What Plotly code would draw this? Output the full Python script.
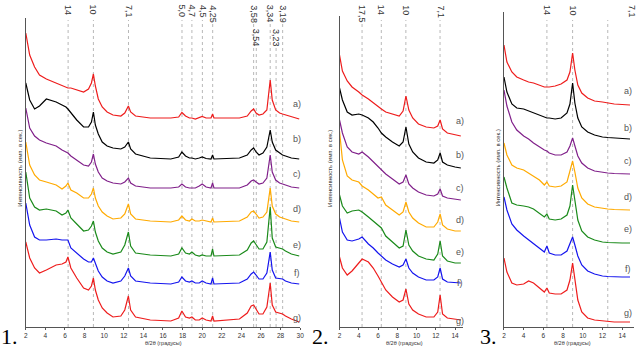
import plotly.graph_objects as go

# ---- panel 1: 2theta grid and intensities (a..g), relative to each curve's baseline
p1_x = [2.0, 2.4, 2.9, 3.4, 4.1, 5.1, 5.7, 6.1, 6.3, 6.6, 7.2, 7.9, 8.4, 8.7, 8.9, 9.1, 9.4, 9.8,
        10.3, 10.9, 11.7, 12.1, 12.47, 12.7, 13.2, 14.7, 16.8, 17.6, 17.93, 18.3, 18.7, 18.95,
        19.3, 19.7, 20.0, 20.4, 20.9, 21.06, 21.2, 23.8, 24.6, 25.0, 25.25, 25.5, 25.8, 26.2,
        26.6, 26.94, 27.15, 27.5, 27.9, 28.2, 28.5, 29.1, 29.9]
p1_a = [85, 63, 51, 43, 39, 35, 32, 31, 30, 30, 28, 26, 29, 35, 44, 32, 19, 11, 6, 3, 2, 5, 12, 6,
        2, 0, 0, 1, 5.5, 2, 0, 0, -1, 0, 1.5, 0, 0, 4, 0, 0, 2, 7, 9, 5, 3, 4, 8, 38, 18, 8, 5, 4,
        3, 1, -1]
p1_b = [76, 59, 50, 53, 60, 57, 54, 52, 50, 46, 39, 32, 32, 37, 47, 34, 25, 17, 13, 11, 10, 12,
        17, 10, 5, 1, 0, 2, 7, 3, 1, 1, 0, 1, 2, 0.5, 0, 4, 0, 1, 4, 9, 11, 7, 4, 6, 12, 29, 17,
        9, 6, 4, 3, 1, 0]
p1_c = [80, 60, 52, 48, 45, 42, 38, 36, 35, 32, 28, 23, 22, 26, 34, 24, 16, 10, 7, 5, 4, 6, 10,
        5, 2, 0, 0, 1, 4, 1, 0, 0, 0, 2, 4, 1, 0, 5, 0, 0, 3, 7, 8, 6, 4, 5, 10, 33, 16, 8, 5, 4,
        3, 1, 0]
p1_d = [80, 57, 47, 42, 40, 37, 33, 36, 39, 32, 29, 24, 24, 28, 34, 24, 16, 10, 6, 3, 4, 8, 18,
        8, 3, 1, 0, 2, 6, 2, 1, 3, 1, 1, 2, 1, 0, 4, 0, 1, 5, 10, 11, 8, 4, 5, 10, 34, 16, 8, 5, 4,
        3, 1, 0]
p1_e = [84, 58, 49, 46, 47, 45, 41, 43, 46, 38, 32, 25, 26, 30, 35, 24, 15, 8, 4, 2, 4, 11, 24,
        10, 3, 1, 0, 2, 8, 3, 2, 4, 1, 0, 1, 0, 0, 7, 0, 1, 6, 13, 15, 11, 7, 7, 14, 49, 18, 9, 8,
        7, 5, 2, 0]
p1_f = [81, 59, 47, 44, 44, 45, 44, 44, 44, 36, 31, 25, 22, 22, 26, 20, 13, 7, 3, 1, 3, 8, 16,
        8, 3, 1, 0, 2, 7, 3, 2, 3, 1, 1, 3, 1, 0, 6, 0, 1, 5, 10, 12, 9, 5, 5, 11, 32, 14, 6, 5, 5,
        3, 1, 0]
p1_g = [80, 64, 54, 49, 52, 57, 58, 60, 65, 54, 44, 34, 32, 36, 44, 32, 22, 14, 9, 5, 6, 12, 26,
        12, 5, 2, 1, 4, 11, 5, 4, 5, 2, 2, 4, 2, 1, 6, 1, 3, 9, 16, 17, 13, 8, 8, 15, 39, 17, 10,
        9, 8, 6, 3, 0]
p1_offsets = [209, 168, 139, 105, 71, 43, 5]

# ---- panel 2
p2_x = [2.0, 2.3, 2.8, 3.3, 4.0, 4.35, 5.0, 5.5, 6.0, 6.35, 6.8, 7.5, 8.2, 8.6, 8.9, 9.2, 9.6,
        10.2, 11.0, 11.8, 12.2, 12.45, 12.7, 13.2, 14.0, 14.6]
p2_a = [81, 65, 55, 49, 44, 41, 37, 33, 29, 27, 24, 22, 20, 25, 40, 26, 18, 12, 9, 8, 10, 16, 7, 3, 1, 0]
p2_b = [80, 68, 56, 53, 54, 53, 50, 46, 40, 35, 31, 26, 22, 26, 41, 24, 16, 10, 6, 5, 8, 15, 6, 3, 1, 0]
p2_c = [80, 67, 53, 48, 46, 48, 43, 38, 33, 30, 26, 21, 16, 18, 25, 16, 12, 8, 5, 4, 6, 11, 4, 2, 1, 0]
p2_d = [100, 71, 55, 51, 49, 45, 41, 37, 33, 34, 26, 21, 16, 19, 29, 19, 13, 8, 4, 4, 9, 17, 6, 2, 0, 0]
p2_e = [68, 57, 50, 52, 53, 51, 46, 42, 38, 35, 27, 21, 15, 17, 33, 18, 12, 7, 4, 3, 9, 22, 7, 2, 0, 0]
p2_f = [65, 51, 43, 42, 44, 46, 39, 35, 30, 27, 23, 19, 16, 18, 24, 15, 10, 6, 3, 3, 6, 15, 4, 1, 0, 0]
p2_g = [63, 52, 45, 49, 57, 61, 58, 52, 44, 38, 30, 23, 18, 20, 31, 16, 10, 6, 3, 3, 8, 25, 6, 2, 1, 0]
p2_offsets = [191, 159, 127, 96, 64, 44, 7]

# ---- panel 3
p3_x = [2.0, 2.3, 2.8, 3.3, 4.0, 4.5, 5.0, 5.6, 6.1, 6.36, 6.6, 7.2, 7.8, 8.4, 8.7, 8.97, 9.2,
        9.5, 9.9, 10.5, 11.2, 12.0, 12.54, 13.2, 14.0, 14.8]
p3_a = [60, 43, 33, 28, 25, 23, 22, 20, 18, 18, 18, 19, 21, 25, 33, 52, 35, 20, 12, 7, 4, 3, 2, 1, 0.5, 0]
p3_b = [62, 47, 35, 31, 30, 28, 26, 24, 22, 21, 21, 20, 21, 26, 35, 56, 36, 21, 12, 7, 4, 2, 1.5, 1, 0, 0]
p3_c = [84, 68, 52, 44, 38, 35, 31, 27, 24, 23, 21, 19, 19, 22, 28, 36, 28, 18, 11, 6, 3, 1.5, 1, 0.5, 0, 0]
p3_d = [67, 55, 45, 42, 40, 37, 34, 30, 25, 28, 24, 23, 24, 28, 39, 49, 38, 22, 12, 6, 3, 1.5, 1, 0.5, 0, 0]
p3_e = [66, 55, 40, 38, 37, 36, 34, 30, 26, 29, 24, 23, 24, 28, 37, 58, 43, 23, 12, 6, 3, 1, 0.5, 0, 0, 0]
p3_f = [80, 67, 53, 47, 41, 37, 33, 29, 25, 31, 24, 22, 22, 26, 33, 40, 32, 21, 12, 6, 3, 1, 0.5, 0, 0, 0]
p3_g = [64, 50, 39, 37, 38, 41, 39, 34, 30, 34, 29, 28, 28, 32, 42, 59, 42, 22, 10, 4, 2, 1, 0.5, 0, 0, 0]
p3_offsets = [222, 188, 153, 117, 84, 50, 5]

colors = ["#ee1c1c", "#000000", "#80208a", "#ffaa00", "#1a8a1a", "#1515ee", "#ee1c1c"]
sample_labels = ["a)", "b)", "c)", "d)", "e)", "f)", "g)"]

# d-spacing reference lines: 2theta position, label, label row, label position
p1_lines = [6.32, 8.9, 12.48, 17.94, 18.95, 20.02, 21.07, 25.25, 25.52, 26.94, 27.54, 28.21]
p1_line_labels = ["14", "10", "7,1", "5,0", "4,7", "4,5", "4,25", "3,58", "3,54", "3,34", "3,23", "3,19"]
p1_label_row = [0, 0, 0, 0, 0, 0, 0, 0, 1, 0, 1, 0]
p2_lines = [4.34, 6.34, 8.89, 12.44]
p2_line_labels = ["17,5", "14", "10", "7,1"]
p3_lines = [6.36, 8.97, 12.54]
p3_line_labels = ["14", "10", "7,1"]
p3_label_pos = [6.36, 8.97, 14.95]

W, H = 643, 348
fig = go.Figure()

panels = [
    dict(x=p1_x, ys=[p1_a, p1_b, p1_c, p1_d, p1_e, p1_f, p1_g], off=p1_offsets,
         xr=[2, 30], px=(24, 301), top=18, lines=p1_lines, labels=p1_line_labels,
         rows=p1_label_row, lpos=p1_lines, lab_x=298, lab_y=[104, 139, 174, 209, 245, 273, 318],
         title_x=163, ytitle_x=18),
    dict(x=p2_x, ys=[p2_a, p2_b, p2_c, p2_d, p2_e, p2_f, p2_g], off=p2_offsets,
         xr=[2, 14.8], px=(340.7, 465.1), top=16, lines=p2_lines, labels=p2_line_labels,
         rows=[0, 0, 0, 0], lpos=p2_lines, lab_x=462, lab_y=[121, 155, 188, 220, 252, 283, 321],
         title_x=406, ytitle_x=331),
    dict(x=p3_x, ys=[p3_a, p3_b, p3_c, p3_d, p3_e, p3_f, p3_g], off=p3_offsets,
         xr=[2, 15.2], px=(506.7, 637.9), top=12, lines=p3_lines, labels=p3_line_labels,
         rows=[0, 0, 0], lpos=p3_label_pos, lab_x=632, lab_y=[91, 128, 161, 197, 229, 269, 313],
         title_x=576, ytitle_x=501),
]

bottom_px = 327
for i, p in enumerate(panels):
    n = "" if i == 0 else str(i + 1)
    xa, ya = "x" + n, "y" + n
    for ys, off, col in zip(p["ys"], p["off"], colors):
        fig.add_trace(go.Scatter(x=p["x"], y=[v + off for v in ys], mode="lines",
                                 line=dict(color=col, width=1.2), xaxis=xa, yaxis=ya,
                                 hoverinfo="skip"))
    fig.layout["xaxis" + n] = dict(
        domain=[p["px"][0] / W, p["px"][1] / W], range=p["xr"], anchor=ya,
        showline=True, linecolor="#555", linewidth=1, ticks="outside", ticklen=2,
        tickcolor="#555", dtick=2, tick0=2, showgrid=False, zeroline=False,
        tickfont=dict(size=6.5, color="#333", family="Liberation Sans"))
    fig.layout["yaxis" + n] = dict(
        domain=[(H - bottom_px) / H, (H - p["top"]) / H], range=[0, bottom_px - p["top"]],
        anchor=xa, showline=True, linecolor="#555", linewidth=1, showticklabels=False,
        ticks="", showgrid=False, zeroline=False)
    # dotted reference lines and their rotated labels
    for pos, lab, row, lp in zip(p["lines"], p["labels"], p["rows"], p["lpos"]):
        fig.add_shape(type="line", xref=xa, yref="paper", x0=pos, x1=pos,
                      y0=(H - bottom_px) / H, y1=(H - (20 if row == 0 else 44)) / H,
                      line=dict(color="#b8b8b8", width=1, dash="dot"), layer="below")
        fig.add_annotation(x=lp, xref=xa, y=1 - (3 if row == 0 else 27) / H, yref="paper",
                           text=lab, textangle=90, showarrow=False, xanchor="center",
                           yanchor="top", font=dict(size=9, color="#333", family="Liberation Sans"))
    for lab, ly in zip(sample_labels, p["lab_y"]):
        fig.add_annotation(x=p["lab_x"] / W, y=1 - ly / H, xref="paper", yref="paper",
                           text=lab, showarrow=False, xanchor="center", yanchor="middle",
                           font=dict(size=9, color="#555", family="Liberation Sans"))
    fig.add_annotation(x=p["title_x"] / W, y=1 - 343 / H, xref="paper", yref="paper",
                       text="θ/2θ (градусы)", showarrow=False, xanchor="center",
                       yanchor="middle", font=dict(size=5.5, color="#333", family="Liberation Sans"))
    fig.add_annotation(x=p["ytitle_x"] / W, y=1 - 168 / H, xref="paper", yref="paper",
                       text="Интенсивность (имп. в сек.)", textangle=-90, showarrow=False,
                       xanchor="center", yanchor="middle",
                       font=dict(size=6, color="#333", family="Liberation Sans"))

for txt, px in zip(["1.", "2.", "3."], [8, 321, 491]):
    fig.add_annotation(x=px / W, y=1 - 336 / H, xref="paper", yref="paper", text=txt,
                       showarrow=False, xanchor="center", yanchor="middle",
                       font=dict(size=22, color="#000", family="Liberation Serif"))

fig.update_layout(width=W, height=H, margin=dict(l=0, r=0, t=0, b=0),
                  paper_bgcolor="white", plot_bgcolor="white", showlegend=False)
fig.write_html("out.html", config={"displayModeBar": False},
               post_script="document.body.style.margin='0';document.body.style.overflow='hidden';")
